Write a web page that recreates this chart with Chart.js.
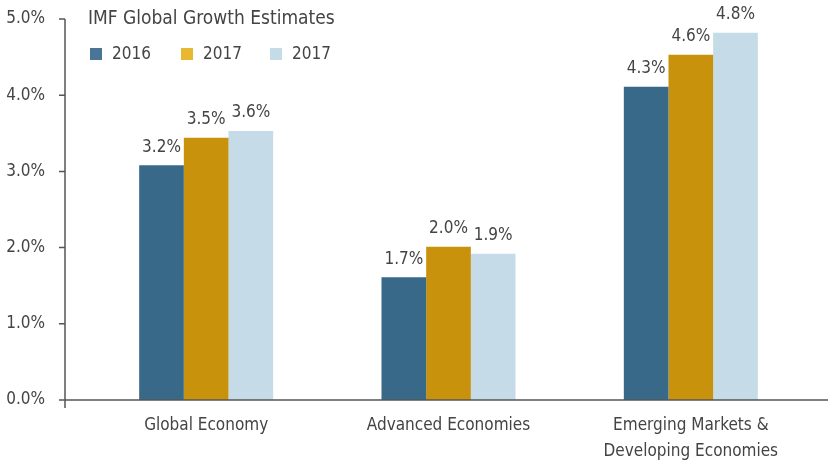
<!DOCTYPE html>
<html>
<head>
<meta charset="utf-8">
<script src="https://cdn.jsdelivr.net/npm/chart.js@4"></script>
<style>
  html, body { margin: 0; padding: 0; background: #fff; }
  #wrap { width: 828px; height: 462px; }
</style>
</head>
<body>
<div id="wrap"><canvas id="chart" width="828" height="462"></canvas></div>
<script>
// chart data
const categories = ['Global Economy', 'Advanced Economies', ['Emerging Markets &', 'Developing Economies']];
const seriesNames = ['2016', '2017', '2017'];
const values2016 = [3.08, 1.61, 4.11];
const values2017 = [3.44, 2.01, 4.53];
const values2017b = [3.53, 1.92, 4.82];
// labels printed above the bars
const labels2016 = ['3.2%', '1.7%', '4.3%'];
const labels2017 = ['3.5%', '2.0%', '4.6%'];
const labels2017b = ['3.6%', '1.9%', '4.8%'];
const yTicks = [0, 1, 2, 3, 4, 5];

const FONT = "'Liberation Sans Narrow', 'DejaVu Sans Condensed', sans-serif";
const TEXT = '#444444';
const AXIS = '#555555';
const barColors = ['#386988', '#c8920c', '#c5dbe7'];
const legendColors = ['#4a7595', '#e8b830', '#c5dce8'];
const title = 'IMF Global Growth Estimates';

// draws axis lines, bar labels, title and legend
const decor = {
    id: 'decor',
    afterDraw(chart) {
        const ctx = chart.ctx;
        const y = chart.scales.y;
        const area = chart.chartArea;
        const axisX = 65;
        ctx.save();
        ctx.strokeStyle = AXIS;
        ctx.lineWidth = 1.5;
        ctx.beginPath();
        ctx.moveTo(axisX, y.getPixelForValue(5));
        ctx.lineTo(axisX, area.bottom + 8);
        ctx.moveTo(59, area.bottom);
        ctx.lineTo(828, area.bottom);
        yTicks.forEach(t => {
            const py = y.getPixelForValue(t);
            ctx.moveTo(59, py);
            ctx.lineTo(axisX, py);
        });
        ctx.stroke();

        // value labels
        const allLabels = [labels2016, labels2017, labels2017b];
        ctx.fillStyle = TEXT;
        ctx.font = '17px ' + FONT;
        ctx.textAlign = 'center';
        ctx.textBaseline = 'middle';
        chart.data.datasets.forEach((ds, i) => {
            chart.getDatasetMeta(i).data.forEach((bar, j) => {
                ctx.fillText(allLabels[i][j], bar.x, bar.y - 18);
            });
        });

        // title
        ctx.textAlign = 'left';
        ctx.font = '19px ' + FONT;
        ctx.fillText(title, 88, 19);

        // legend
        ctx.font = '17px ' + FONT;
        const legendX = [90, 181, 270];
        seriesNames.forEach((name, i) => {
            ctx.fillStyle = legendColors[i];
            ctx.fillRect(legendX[i], 48, 12, 12);
            ctx.fillStyle = TEXT;
            ctx.fillText(name, legendX[i] + 22, 55);
        });
        ctx.restore();
    }
};

new Chart(document.getElementById('chart'), {
    type: 'bar',
    data: {
        labels: categories,
        datasets: [
            { label: seriesNames[0], data: values2016, backgroundColor: barColors[0] },
            { label: seriesNames[1], data: values2017, backgroundColor: barColors[1] },
            { label: seriesNames[2], data: values2017b, backgroundColor: barColors[2] }
        ]
    },
    options: {
        responsive: false,
        animation: false,
        layout: { padding: { top: 19, right: 16, bottom: 0, left: 0 } },
        datasets: { bar: { categoryPercentage: 0.553, barPercentage: 1.0 } },
        plugins: { legend: { display: false }, tooltip: { enabled: false } },
        scales: {
            x: {
                afterFit(scale) { scale.height = 62; },
                grid: { display: false, drawTicks: false },
                border: { display: false },
                ticks: { color: TEXT, font: { family: FONT, size: 17, lineHeight: 1.55 }, padding: 12, maxRotation: 0, autoSkip: false }
            },
            y: {
                min: 0,
                max: 5,
                afterBuildTicks(scale) { scale.ticks = yTicks.map(v => ({ value: v })); },
                afterFit(scale) {
                    scale.width = 85;
                    scale.paddingTop = 0;
                    scale.paddingBottom = 0;
                },
                grid: { display: false, drawTicks: false },
                border: { display: false },
                ticks: {
                    color: TEXT,
                    font: { family: FONT, size: 17 },
                    padding: 40,
                    callback: v => v.toFixed(1) + '%'
                }
            }
        }
    },
    plugins: [decor]
});
</script>
</body>
</html>
